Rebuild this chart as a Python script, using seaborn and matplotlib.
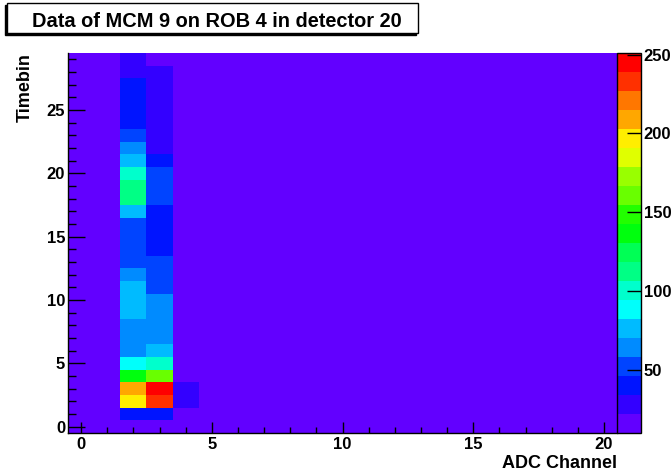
import numpy as np
import pandas as pd
import matplotlib
matplotlib.use("Agg")
import matplotlib.pyplot as plt
from matplotlib.colors import ListedColormap, BoundaryNorm
from matplotlib.patches import Rectangle
import seaborn as sns

# ==========================================
# DATA (ADC counts per channel / timebin)
# ==========================================
adc_channels = list(range(21))
timebins = list(range(30))
pedestal = 10

# channels with signal, values listed from timebin 0 to 29
adc_ch2 = [12, 40, 196, 208, 136, 88, 64, 64, 66, 76,
           78, 75, 63, 52, 50, 51, 53, 74, 112, 114,
           100, 76, 64, 52, 42, 40, 41, 40, 30, 28]
adc_ch3 = [11, 39, 232, 251, 160, 98, 72, 66, 62, 64,
           61, 54, 52, 50, 44, 40, 38, 40, 48, 50,
           49, 42, 32, 30, 29, 30, 28, 31, 29, 16]
adc_ch4 = [10, 10, 26, 30, 10, 10, 10, 10, 10, 10,
           10, 10, 10, 10, 10, 10, 10, 10, 10, 10,
           10, 10, 10, 10, 10, 10, 10, 10, 10, 10]

z_min, z_max = 10, 251
x_ticks = [0, 5, 10, 15, 20]
y_ticks = [0, 5, 10, 15, 20, 25]
z_ticks = [50, 100, 150, 200, 250]

# ROOT "pretty" palette, 20 contour levels
palette_root = ['#6200ff', '#3300ff', '#0014ff', '#0044ff', '#008bff',
                '#00bbff', '#00fffb', '#00ffcc', '#00ff85', '#00ff55',
                '#00ff0e', '#22ff00', '#69ff00', '#99ff00', '#e0ff00',
                '#ffee00', '#ffa700', '#ff7700', '#ff3000', '#ff0000']

# ==========================================
# STYLE
# ==========================================
sns.set_theme(style="white")
plt.rcParams.update({
    'font.family': ['Liberation Sans', 'DejaVu Sans'],
    'font.weight': 'bold',
    'text.color': 'black',
    'axes.labelcolor': 'black',
    'xtick.color': 'black',
    'ytick.color': 'black',
    'axes.axisbelow': False,
})

W, H = 672, 476
fig = plt.figure(figsize=(W / 100, H / 100), dpi=100)

# geometry in pixels
px_l, px_r, px_t, px_b = 68, 617, 53, 433
ax = fig.add_axes([px_l / W, (H - px_b) / H, (px_r - px_l) / W, (px_b - px_t) / H])
cax = fig.add_axes([px_r / W, (H - px_b) / H, 24 / W, (px_b - px_t) / H])

# build table
grid = np.full((len(timebins), len(adc_channels)), pedestal, dtype=float)
grid[:, 2] = adc_ch2
grid[:, 3] = adc_ch3
grid[:, 4] = adc_ch4
df = pd.DataFrame(grid, index=timebins, columns=adc_channels)

cmap = ListedColormap(palette_root)
norm = BoundaryNorm(np.linspace(z_min, z_max, len(palette_root) + 1), cmap.N)

sns.heatmap(df, ax=ax, cmap=cmap, norm=norm, cbar=True, cbar_ax=cax,
            xticklabels=False, yticklabels=False,
            cbar_kws={'spacing': 'proportional'})
ax.set_axisbelow(False)
cax.set_axisbelow(False)

# origin at the bottom like ROOT
ax.set_xlim(0, len(adc_channels))
ax.set_ylim(0, len(timebins))

ax.set_xticks([v + 0.5 for v in x_ticks])
ax.set_xticklabels([str(v) for v in x_ticks])
ax.set_xticks([v + 0.5 for v in adc_channels], minor=True)
ax.set_yticks([v + 0.5 for v in y_ticks])
ax.set_yticklabels([str(v) for v in y_ticks])
ax.set_yticks([v + 0.5 for v in timebins], minor=True)

ax.tick_params(axis='x', which='major', direction='in', length=8.2, width=1,
               color='black', labelcolor='black', labelsize=12, pad=3, bottom=True)
ax.tick_params(axis='x', which='minor', direction='in', length=4.1, width=1,
               color='black', bottom=True)
ax.tick_params(axis='y', which='major', direction='in', length=11.9, width=1,
               color='black', labelcolor='black', labelsize=12, pad=2, left=True)
ax.tick_params(axis='y', which='minor', direction='in', length=5.9, width=1,
               color='black', left=True)
for lab in ax.get_xticklabels() + ax.get_yticklabels():
    lab.set_fontweight('bold')
    lab.set_rotation(0)

for side in ['left', 'bottom']:
    ax.spines[side].set_visible(True)
    ax.spines[side].set_color('black')
    ax.spines[side].set_linewidth(1)

ax.set_xlabel('ADC Channel', fontsize=13, fontweight='bold', color='black')
ax.xaxis.label.set(ha='right', va='top')
ax.xaxis.set_label_coords(1.0, -0.058)
ax.set_ylabel('Timebin', fontsize=13, fontweight='bold', color='black')
ax.yaxis.label.set(ha='right', va='center', rotation=90)
ax.yaxis.set_label_coords(-0.077, 1.0)

# colour bar
cbar = ax.collections[0].colorbar
cbar.set_ticks(z_ticks)
cbar.set_ticklabels([str(v) for v in z_ticks])
cax.tick_params(which='major', direction='in', length=10, width=1, color='black',
                labelcolor='black', labelsize=12, pad=2, right=True, left=False)
cax.minorticks_off()
for lab in cax.get_yticklabels():
    lab.set_fontweight('bold')
cbar.outline.set_edgecolor('black')
cbar.outline.set_linewidth(1)

# title box with ROOT shadow (bottom-left)
bx0, bx1, by0, by1 = 7, 418, 3, 33
fig.patches.append(Rectangle(((bx0 - 2) / W, (H - by1 - 2) / H), (bx1 - bx0) / W, (by1 - by0) / H,
                             transform=fig.transFigure, facecolor='black', edgecolor='black', lw=1))
fig.patches.append(Rectangle((bx0 / W, (H - by1) / H), (bx1 - bx0) / W, (by1 - by0) / H,
                             transform=fig.transFigure, facecolor='white', edgecolor='black', lw=1))
fig.text(217 / W, (H - 27) / H, 'Data of MCM 9 on ROB 4 in detector 20',
         ha='center', va='baseline', fontsize=14.4, fontweight='bold', color='black')

fig.savefig('out.png', dpi=100)
